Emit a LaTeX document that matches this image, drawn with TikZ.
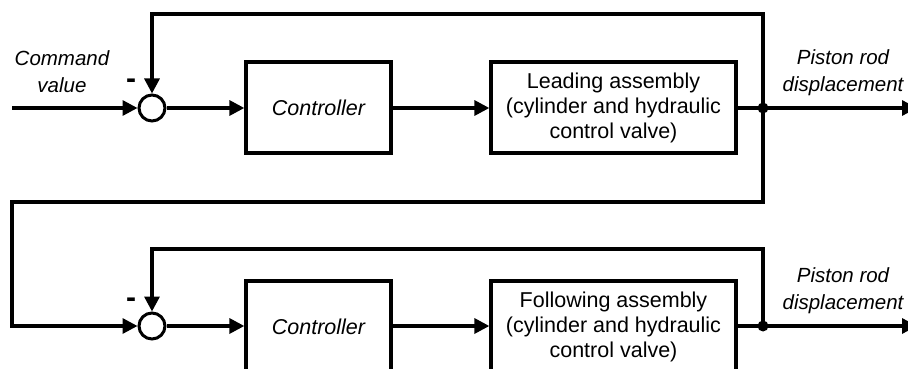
\documentclass[tikz,border=0pt]{standalone}
\usepackage{fontspec}
\setmainfont{Liberation Sans}
\usetikzlibrary{arrows.meta}
\begin{document}
\begin{tikzpicture}[x=1pt,y=-1pt,line width=3.3pt,
  arr/.style={-{Triangle[length=15pt,width=15pt]}},
  blk/.style={draw,rectangle,inner sep=0pt,align=center,minimum height=91pt,font=\fontsize{21.5}{25}\selectfont},
  sumnode/.style={draw,circle,fill=white,minimum size=26pt,inner sep=0pt,line width=3pt},
  dot/.style={circle,fill=black,minimum size=11pt,inner sep=0pt},
  lbl/.style={align=center,font=\fontsize{20.5}{27}\selectfont\itshape},
  minus/.style={font=\fontsize{30}{30}\selectfont\bfseries,inner sep=0pt}]
\useasboundingbox (0,0) rectangle (908,369);
\clip (0,0) rectangle (908,369);

% ---------- top loop ----------
\coordinate (in1) at (12,108);
\node[sumnode] (sum1) at (152,108) {};
\node[blk,minimum width=145pt] (ctrl1) at (318.5,107.5) {\itshape Controller};
\node[blk,minimum width=245pt] (lead1) at (613.5,107.5) {Leading assembly\\(cylinder and hydraulic\\control valve)};
\node[dot] (j1) at (763,108) {};
\coordinate (out1) at (917,108);
\coordinate (fb1) at (763,14);

\draw[arr] (in1) -- (sum1.west);
\draw[arr] (sum1.east) -- (ctrl1.west |- sum1.east);
\draw[arr] (ctrl1.east |- sum1.east) -- (lead1.west |- sum1.east);
\draw (lead1.east |- j1) -- (j1.center);
\draw[arr] (j1.center) -- (out1);
\draw[arr] (j1.center) -- (fb1) -| (sum1.north);

\node[lbl] (cmd) at (62,72) {Command\\value};
\node[minus] (m1) at (131,84) {-};
\node[lbl] (pr1) at (843,73) {Piston rod\\displacement};

% ---------- bottom loop ----------
\coordinate (d1) at (763,202);
\coordinate (d2) at (12,202);
\coordinate (in2) at (12,326);
\node[sumnode] (sum2) at (152,326) {};
\node[blk,minimum width=145pt] (ctrl2) at (318.5,326.5) {\itshape Controller};
\node[blk,minimum width=245pt] (lead2) at (613.5,326.5) {Following assembly\\(cylinder and hydraulic\\control valve)};
\node[dot] (j2) at (763,326) {};
\coordinate (out2) at (917,326);
\coordinate (fb2) at (763,249);

\draw[arr] (j1.center) -- (d1) -- (d2) -- (in2) -- (sum2.west);
\draw[arr] (sum2.east) -- (ctrl2.west |- sum2.east);
\draw[arr] (ctrl2.east |- sum2.east) -- (lead2.west |- sum2.east);
\draw (lead2.east |- j2) -- (j2.center);
\draw[arr] (j2.center) -- (out2);
\draw[arr] (j2.center) -- (fb2) -| (sum2.north);

\node[minus] (m2) at (131,303) {-};
\node[lbl] (pr2) at (843,291) {Piston rod\\displacement};
\end{tikzpicture}
\end{document}
